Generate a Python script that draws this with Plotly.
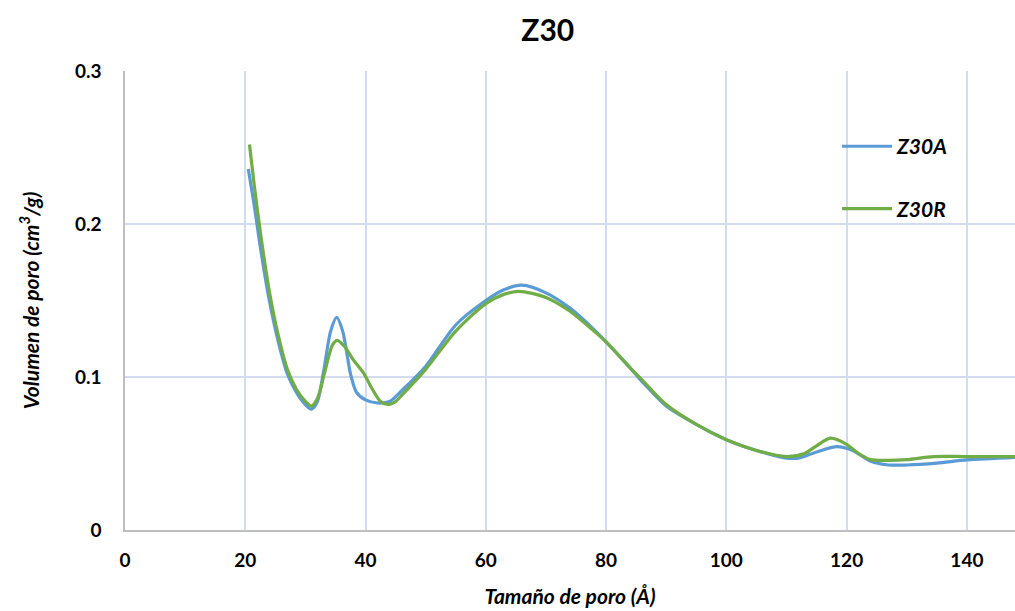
import plotly.graph_objects as go

# Z30A
x_a = [20.5, 21.5, 22.5, 24, 25.5, 27, 28.5, 30, 31, 32, 33, 34.2, 35.2, 36.2, 37.5, 38.5, 40, 42, 44, 46,
       50, 55, 60, 63, 66, 70, 74, 78, 80, 84, 86, 90, 95, 100, 105, 110, 112, 115, 118.4, 121, 124, 127,
       130, 135, 140, 148]
y_a = [0.236, 0.212, 0.185, 0.150, 0.123, 0.102, 0.090, 0.082, 0.079, 0.084, 0.103, 0.130, 0.139, 0.130,
       0.102, 0.090, 0.085, 0.083, 0.084, 0.091, 0.107, 0.134, 0.150, 0.157, 0.160, 0.155, 0.145, 0.131,
       0.123, 0.106, 0.097, 0.081, 0.069, 0.059, 0.052, 0.047, 0.047, 0.051, 0.0545, 0.052, 0.045, 0.0425,
       0.0425, 0.0437, 0.0458, 0.0475]

# Z30R
x_r = [20.7, 21.5, 22.5, 24, 25.5, 27, 28.5, 30, 31, 32, 33.2, 34.5, 35.3, 36.5, 38, 39.6, 41, 42.5, 43.8,
       45, 46, 50, 55, 60, 63, 65.5, 70, 74, 78, 80, 84, 86, 90, 95, 100, 105, 110, 113, 115, 117.3, 120,
       122, 124, 127, 130, 134.5, 140, 148]
y_r = [0.252, 0.225, 0.195, 0.156, 0.127, 0.105, 0.092, 0.084, 0.081, 0.086, 0.103, 0.121, 0.124, 0.120,
       0.111, 0.103, 0.093, 0.084, 0.082, 0.084, 0.088, 0.105, 0.130, 0.148, 0.154, 0.156, 0.152, 0.143,
       0.130, 0.123, 0.106, 0.098, 0.082, 0.069, 0.059, 0.052, 0.048, 0.050, 0.055, 0.060, 0.056, 0.050,
       0.046, 0.0455, 0.046, 0.048, 0.048, 0.048]

x_ticks = [0, 20, 40, 60, 80, 100, 120, 140]
y_ticks = [0, 0.1, 0.2, 0.3]
y_tick_text = ["0", "0.1", "0.2", "0.3"]

FONT = "Lato"
GRID = "#d3dcee"

fig = go.Figure()
fig.add_trace(go.Scatter(x=x_a, y=y_a, mode="lines", name="<b><i>Z30A</i></b>", legendgroup="a",
                         line=dict(color="#5b9bd5", width=3.2, shape="spline", smoothing=0.8)))
fig.add_trace(go.Scatter(x=x_r, y=y_r, mode="lines", name="<b><i>Z30R</i></b>", legendgroup="r",
                         line=dict(color="#70ad47", width=3.2, shape="spline", smoothing=0.8)))

fig.update_layout(
    width=1015, height=611,
    margin=dict(l=125, r=0, t=71, b=81),
    paper_bgcolor="white", plot_bgcolor="white",
    font=dict(family=FONT, color="black", size=17),
    title=dict(text="<b>Z30</b>", x=0.475, xref="paper", y=0.95, yanchor="middle",
               font=dict(family=FONT, size=30, color="black")),
    showlegend=True,
    legend=dict(x=0.8, y=0.88, xanchor="left", yanchor="top", bgcolor="rgba(0,0,0,0)",
                font=dict(family=FONT, size=21, color="black"),
                tracegroupgap=32, itemwidth=50),
)
fig.update_xaxes(range=[0, 148], tickvals=x_ticks, showgrid=True, gridcolor=GRID, gridwidth=1.5,
                 showline=True, linecolor="#bfbfbf", linewidth=1.5, zeroline=False, ticks="",
                 tickfont=dict(family=FONT, size=19, weight="bold"), ticklabelstandoff=12,
                 title=dict(text="<b><i>Tamaño de poro (Å)</i></b>", font=dict(family=FONT, size=21),
                            standoff=20))
fig.update_yaxes(range=[0, 0.3], tickvals=y_ticks, ticktext=y_tick_text, showgrid=True, gridcolor=GRID,
                 gridwidth=1.5, showline=True, linecolor="#bfbfbf", linewidth=1.5, zeroline=False, ticks="",
                 tickfont=dict(family=FONT, size=19, weight="bold"), ticklabelstandoff=18,
                 title=dict(text="<b><i>Volumen de poro (cm<sup>3</sup>/g)</i></b>",
                            font=dict(family=FONT, size=21), standoff=30))

fig.write_html("out.html")
